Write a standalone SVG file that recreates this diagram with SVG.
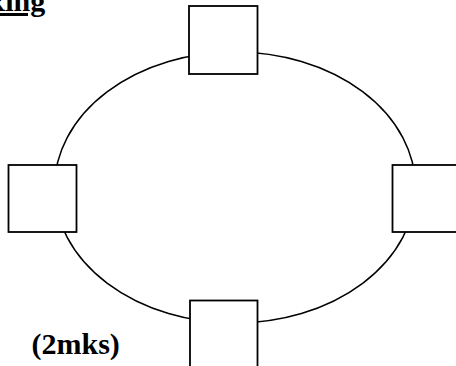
<svg xmlns="http://www.w3.org/2000/svg" width="456" height="366" viewBox="0 0 456 366">
  <style>
    .ring { fill: none; stroke: #000; stroke-width: 1.5; }
    .node rect { fill: #fff; stroke: #000; stroke-width: 1.8; }
    .label { font-family: "Liberation Serif", "Times New Roman", serif; font-weight: bold; font-size: 30px; fill: #000; }
  </style>
  <rect width="456" height="366" fill="#fff"/>
  <text class="label" x="-16.5" y="11" text-decoration="underline">Ring</text>
  <g id="connectors">
    <ellipse class="ring" cx="235" cy="187.5" rx="180.5" ry="135.5"/>
  </g>
  <g id="node-top" class="node"><rect x="189" y="6" width="68.5" height="68"/></g>
  <g id="node-left" class="node"><rect x="8.5" y="165" width="68" height="67"/></g>
  <g id="node-right" class="node"><rect x="392.5" y="165" width="68" height="67"/></g>
  <g id="node-bottom" class="node"><rect x="190" y="300.5" width="67.5" height="70"/></g>
  <text class="label" x="31.5" y="354">(2mks)</text>
</svg>
